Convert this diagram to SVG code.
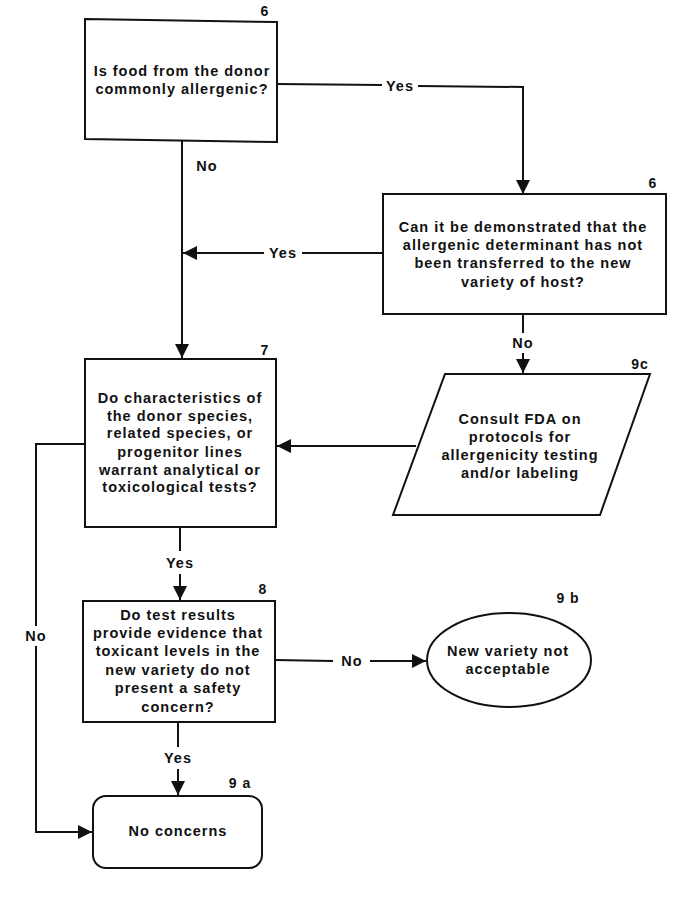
<svg xmlns="http://www.w3.org/2000/svg" width="700" height="901" viewBox="0 0 700 901">
<style>
text{font-family:"Liberation Sans",Arial,sans-serif;font-weight:bold;font-size:14.5px;fill:#111;letter-spacing:1px}
.t{text-anchor:middle}
.n{text-anchor:middle;font-size:14px}
.shape{fill:#fff;stroke:#111;stroke-width:2}
.line{fill:none;stroke:#111;stroke-width:2}
.lbl{text-anchor:middle;dominant-baseline:central}
</style>
<defs>
<marker id="ah" viewBox="0 0 14 14" refX="14" refY="7" markerWidth="14" markerHeight="14" markerUnits="userSpaceOnUse" orient="auto">
<path d="M0,0 L14,7 L0,14 z" fill="#111"/>
</marker>
</defs>
<rect width="700" height="901" fill="#fff"/>
<g id="connectors">
<path class="line" d="M277,84 L382,85 M418,86 L523,87 L523,194" marker-end="url(#ah)"/>
<path class="line" d="M182,140 L182,358" marker-end="url(#ah)"/>
<path class="line" d="M383,253 L302,253 M264,253 L183,253" marker-end="url(#ah)"/>
<path class="line" d="M523,314 L523,333 M523,353 L523,373" marker-end="url(#ah)"/>
<path class="line" d="M416,446 L277,446" marker-end="url(#ah)"/>
<path class="line" d="M180,527 L180,551 M180,574 L180,600" marker-end="url(#ah)"/>
<path class="line" d="M275,660 L333,661 M370,661 L426,661" marker-end="url(#ah)"/>
<path class="line" d="M178,722 L178,747 M178,769 L178,795" marker-end="url(#ah)"/>
<path class="line" d="M85,444 L36,444 L36,626 M36,646 L36,832 L92,832" marker-end="url(#ah)"/>
<text class="lbl" x="400" y="86">Yes</text>
<text class="lbl" x="207" y="166">No</text>
<text class="lbl" x="283" y="253">Yes</text>
<text class="lbl" x="523" y="343">No</text>
<text class="lbl" x="180" y="563">Yes</text>
<text class="lbl" x="352" y="661">No</text>
<text class="lbl" x="178" y="758">Yes</text>
<text class="lbl" x="36" y="636">No</text>
</g>
<g id="n6a">
<path class="shape" d="M85,19 L277,22 L277,142 L85,139 Z"/>
<text class="n" x="265" y="16">6</text>
<text class="t" x="182" y="76">Is food from the donor</text>
<text class="t" x="182" y="94">commonly allergenic?</text>
</g>
<g id="n6b">
<rect class="shape" x="383" y="194" width="283" height="120"/>
<text class="n" x="653" y="188">6</text>
<text class="t" x="523" y="232">Can it be demonstrated that the</text>
<text class="t" x="523" y="250">allergenic determinant has not</text>
<text class="t" x="523" y="268">been transferred to the new</text>
<text class="t" x="523" y="287">variety of host?</text>
</g>
<g id="n9c">
<path class="shape" d="M445,374 L650,374 L600,515 L393,515 Z"/>
<text class="n" x="640" y="369">9c</text>
<text class="t" x="520" y="424">Consult FDA on</text>
<text class="t" x="520" y="442">protocols for</text>
<text class="t" x="520" y="460">allergenicity testing</text>
<text class="t" x="520" y="478">and/or labeling</text>
</g>
<g id="n7">
<rect class="shape" x="85" y="359" width="191" height="168"/>
<text class="n" x="265" y="355">7</text>
<text class="t" x="180" y="403">Do characteristics of</text>
<text class="t" x="180" y="421">the donor species,</text>
<text class="t" x="180" y="438">related species, or</text>
<text class="t" x="180" y="457">progenitor lines</text>
<text class="t" x="180" y="475">warrant analytical or</text>
<text class="t" x="180" y="492">toxicological tests?</text>
</g>
<g id="n8">
<rect class="shape" x="83" y="601" width="192" height="121"/>
<text class="n" x="263" y="594">8</text>
<text class="t" x="178" y="620">Do test results</text>
<text class="t" x="178" y="638">provide evidence that</text>
<text class="t" x="178" y="656">toxicant levels in the</text>
<text class="t" x="178" y="675">new variety do not</text>
<text class="t" x="178" y="693">present a safety</text>
<text class="t" x="178" y="712">concern?</text>
</g>
<g id="n9b">
<ellipse class="shape" cx="509" cy="660" rx="82" ry="47"/>
<text class="n" x="568" y="603">9 b</text>
<text class="t" x="508" y="656">New variety not</text>
<text class="t" x="508" y="674">acceptable</text>
</g>
<g id="n9a">
<rect class="shape" x="93" y="796" width="169" height="72" rx="13" ry="13"/>
<text class="n" x="240" y="788">9 a</text>
<text class="t" x="178" y="836">No concerns</text>
</g>
</svg>
